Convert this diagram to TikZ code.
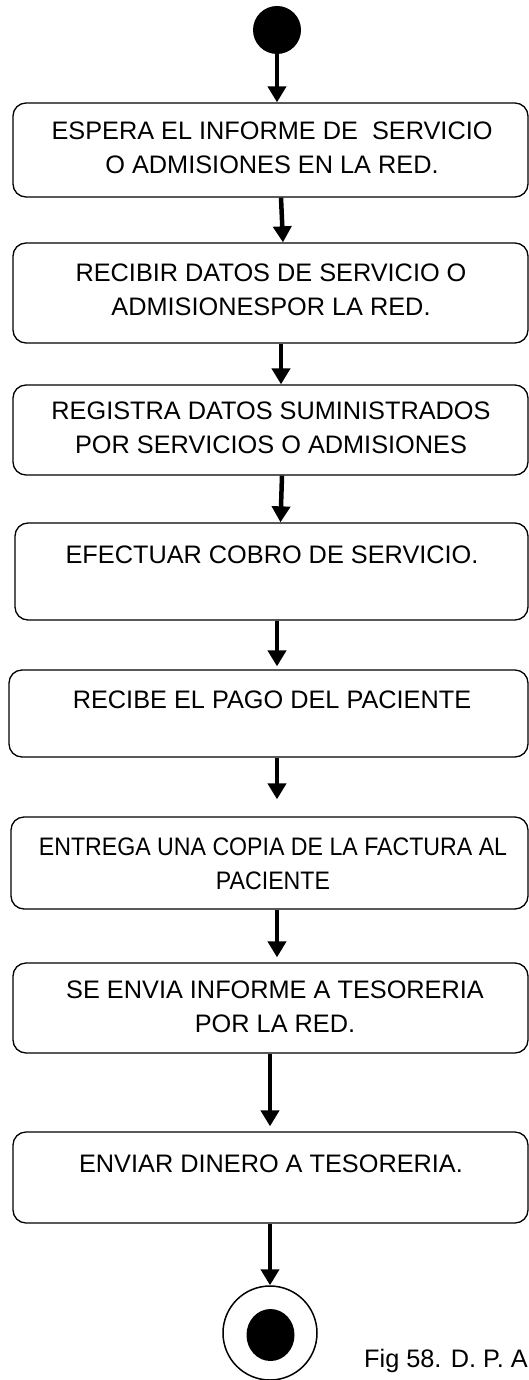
\documentclass[tikz,border=0pt]{standalone}
\usepackage{fontspec}
\usepackage{graphicx}
\setmainfont{Liberation Sans}
\usetikzlibrary{arrows.meta}
\begin{document}
\begin{tikzpicture}[x=1pt,y=-1pt,
  actbox/.style={draw=black, line width=1.3pt, rounded corners=13pt, inner sep=0pt, minimum width=515pt},
  txt/.style={inner sep=0pt, align=center, font=\fontsize{25.3}{33.5}\selectfont},
  arr/.style={line width=4.5pt, -{Triangle[length=16pt,width=18pt]}},
  startdot/.style={circle, fill=black, minimum size=48pt, inner sep=0pt},
  enddot/.style={circle, draw=black, line width=1.5pt, minimum size=94pt, inner sep=0pt, fill=white}
]
\useasboundingbox (0,0) rectangle (529,1380);

\node[startdot] (s) at (277,30) {};

\node[actbox, minimum height=94pt] (b1) at (270.5,150) {};
\node[txt] (t1) at (272,148) {ESPERA EL INFORME DE~~SERVICIO\\O ADMISIONES EN LA RED.};

\node[actbox, minimum height=100pt] (b2) at (270.5,293) {};
\node[txt] (t2) at (271,290) {RECIBIR DATOS DE SERVICIO O\\ADMISIONESPOR LA RED.};

\node[actbox, minimum height=90pt] (b3) at (270.5,430) {};
\node[txt] (t3) at (271,428) {REGISTRA DATOS SUMINISTRADOS\\POR SERVICIOS O ADMISIONES};

\node[actbox, minimum width=513pt, minimum height=97pt] (b4) at (271.5,571.5) {};
\node[txt] (t4) at (272,555) {EFECTUAR COBRO DE SERVICIO.};

\node[actbox, minimum width=519pt, minimum height=87pt] (b5) at (268.5,713.5) {};
\node[txt] (t5) at (272,700) {RECIBE EL PAGO DEL PACIENTE};

\node[actbox, minimum width=517pt, minimum height=92pt] (b6) at (269.5,863) {};
\node[txt] (t6) at (273,864) {\scalebox{0.915}[1]{ENTREGA UNA COPIA DE LA FACTURA AL}\\\scalebox{0.915}[1]{PACIENTE}};

\node[actbox, minimum height=90pt] (b7) at (270.5,1008) {};
\node[txt] (t7) at (275,1007) {SE ENVIA INFORME A TESORERIA\\POR LA RED.};

\node[actbox, minimum height=91pt] (b8) at (270.5,1177.5) {};
\node[txt] (t8) at (271,1164) {ENVIAR DINERO A TESORERIA.};

\node[enddot] (e) at (270,1333) {};
\fill[black] (270.5,1335) ellipse [x radius=24pt, y radius=26pt];

\node[anchor=base west, inner sep=0pt, font=\fontsize{25.3}{30}\selectfont] (cap) at (364,1367) {Fig 58. D. P. A};

\draw[arr] (s.south) -- (b1.north -| s.south);
\draw[arr] ([xshift=10.5pt]b1.south) -- ([xshift=12.5pt]b2.north);
\draw[arr] ([xshift=10.5pt]b2.south) -- ([xshift=10.5pt]b3.north);
\draw[arr] ([xshift=11.5pt]b3.south) -- ([xshift=9pt]b4.north);
\draw[arr] ([xshift=5.5pt]b4.south) -- ([xshift=8.5pt,yshift=3pt]b5.north);
\draw[arr] ([xshift=8.5pt]b5.south) -- ([xshift=7.5pt,yshift=17pt]b6.north);
\draw[arr] ([xshift=7.5pt]b6.south) -- ([xshift=6.5pt,yshift=5pt]b7.north);
\draw[arr] ([xshift=-0.5pt]b7.south) -- ([xshift=-0.5pt,yshift=5pt]b8.north);
\draw[arr] ([xshift=-0.5pt]b8.south) -- (e.north);
\end{tikzpicture}
\end{document}
